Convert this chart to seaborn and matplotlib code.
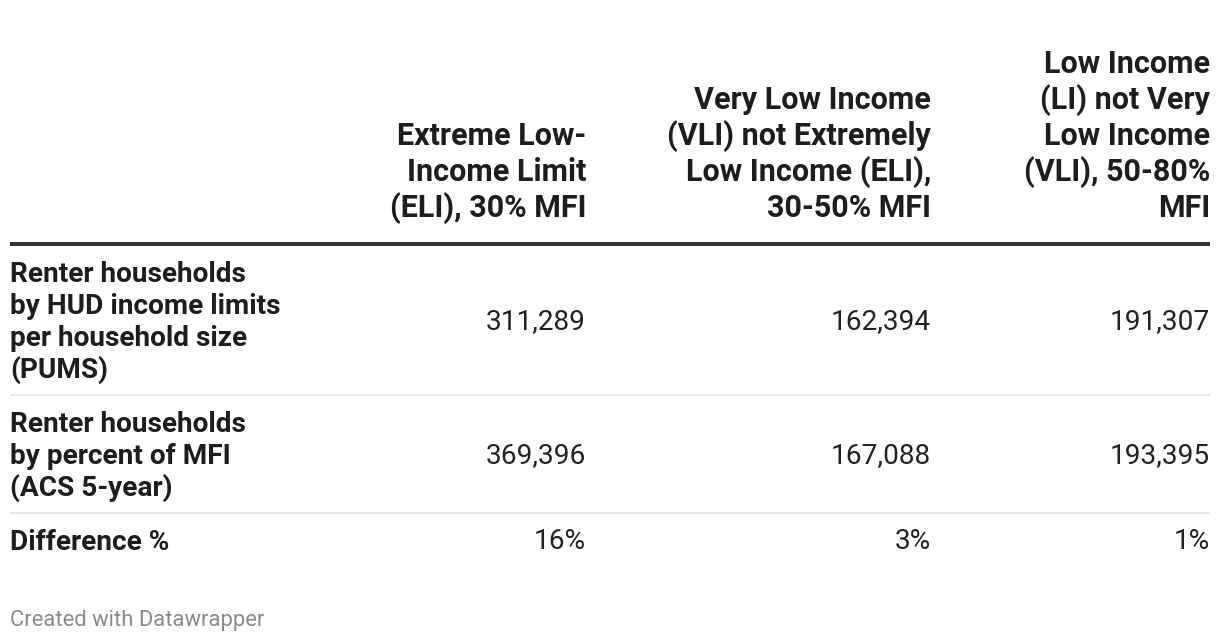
import matplotlib
matplotlib.use("Agg")
import matplotlib.pyplot as plt
import seaborn as sns

# ---- data ----
column_headers = [
    "Extreme Low-\nIncome Limit\n(ELI), 30% MFI",
    "Very Low Income\n(VLI) not Extremely\nLow Income (ELI),\n30-50% MFI",
    "Low Income\n(LI) not Very\nLow Income\n(VLI), 50-80%\nMFI",
]
row_labels = [
    "Renter households\nby HUD income limits\nper household size\n(PUMS)",
    "Renter households\nby percent of MFI\n(ACS 5-year)",
    "Difference %",
]
pums_values = [311289, 162394, 191307]
acs_values = [369396, 167088, 193395]
difference_pct = [16, 3, 1]
footer = "Created with Datawrapper"

# ---- styling ----
sns.set_theme(style="white")
plt.rcParams['font.family'] = ['Roboto', 'DejaVu Sans']

W, H = 1220, 642
fig = plt.figure(figsize=(W / 100, H / 100), dpi=100)
ax = fig.add_axes([0, 0, 1, 1])
ax.set_xlim(0, W)
ax.set_ylim(H, 0)
ax.axis("off")

TEXT = "#1d1d1d"
VAL = "#222222"
left_x = 10
right_edge = 1210
col_right = [586, 931, 1210]

header_base = 217
header_step = 36
header_size = 22.0
label_size = 20.2
value_size = 20.2
row_step = 32

# header
for x, hdr in zip(col_right, column_headers):
    lines = hdr.split("\n")
    n = len(lines)
    for i, line in enumerate(lines):
        y = header_base - (n - 1 - i) * header_step
        ax.text(x, y, line, ha="right", va="baseline", fontsize=header_size,
                fontweight="bold", color=TEXT)

ax.hlines(244, left_x, right_edge, color="#333333", linewidth=2.9)

# rows
rows_values = [
    [f"{v:,}" for v in pums_values],
    [f"{v:,}" for v in acs_values],
    [f"{v}%" for v in difference_pct],
]
row_first_base = [282, 432, 550]
for label, first, vals in zip(row_labels, row_first_base, rows_values):
    lines = label.split("\n")
    for i, line in enumerate(lines):
        ax.text(left_x, first + i * row_step, line, ha="left", va="baseline",
                fontsize=label_size, fontweight="bold", color=TEXT)
    vy = first + (len(lines) - 1) * row_step / 2 - 1
    for x, v in zip(col_right, vals):
        ax.text(x, vy, v, ha="right", va="baseline", fontsize=value_size,
                color=VAL)

for sep in [395, 513]:
    ax.hlines(sep, left_x, right_edge, color="#e5e5e5", linewidth=1.4)

ax.text(left_x, 626, footer, ha="left", va="baseline", fontsize=15.8,
        color="#8a8a8a")

fig.savefig("out.png", dpi=100, facecolor="white")
